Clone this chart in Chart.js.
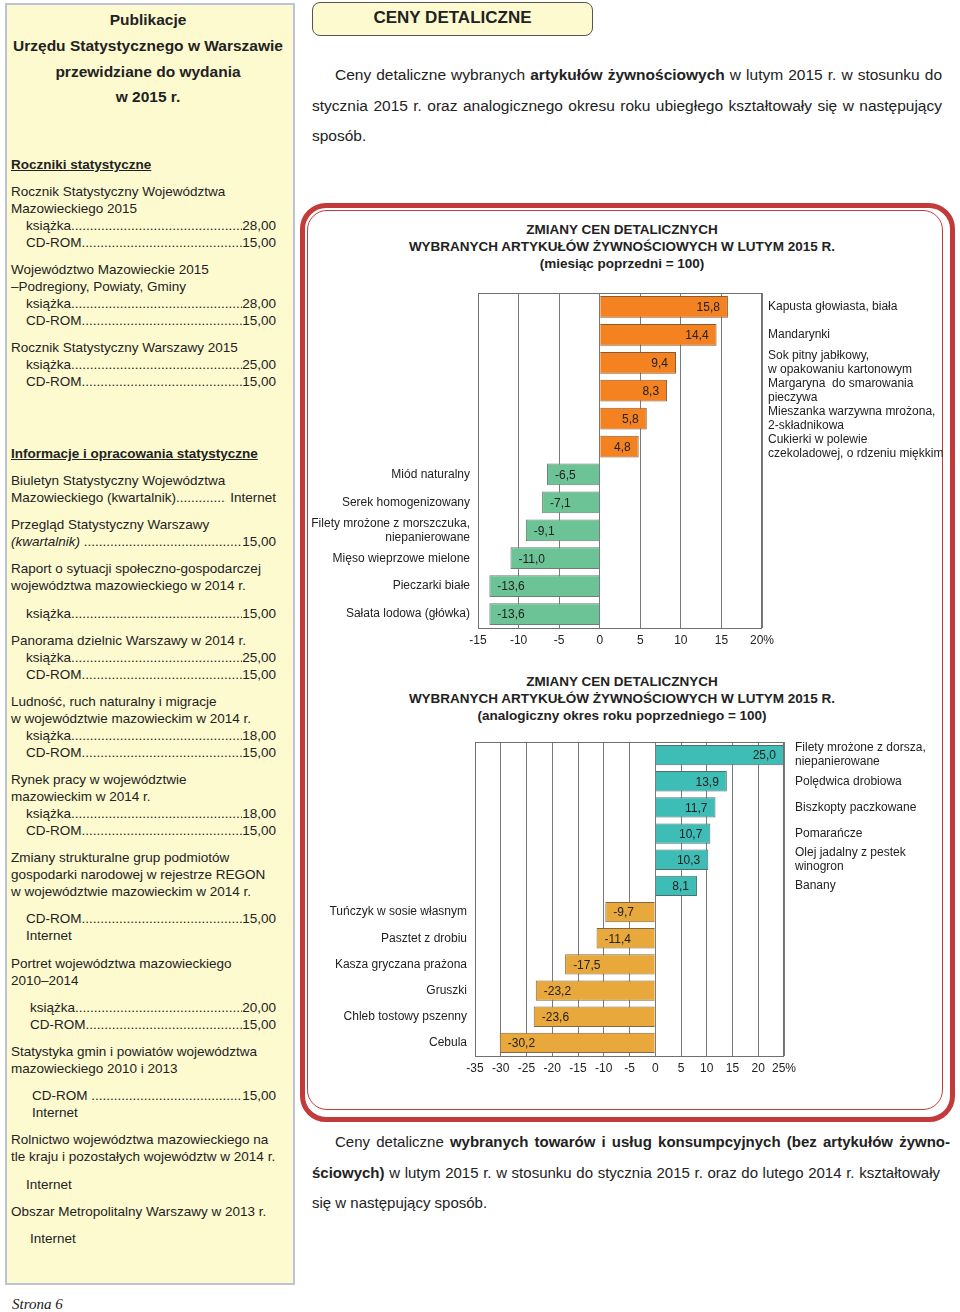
<!DOCTYPE html>
<html lang="pl">
<head>
<meta charset="utf-8">
<script src="https://cdn.jsdelivr.net/npm/chart.js@4"></script>
<style>
  html,body{margin:0;padding:0;background:#fff;}
  body{width:960px;height:1312px;position:relative;overflow:hidden;font-family:"Liberation Sans",Arial,sans-serif;color:#222;}
  .side{position:absolute;left:5px;top:3px;width:286px;height:1278px;background:#fdfad0;border:2px solid #bcc3d8;}
  .l{position:absolute;font-size:13.5px;line-height:18px;white-space:nowrap;}
  .p{display:flex;}
  .d{flex:1;overflow:hidden;white-space:nowrap;}
  .d::after{content:"..............................................................................................................";}
  .h{font-weight:bold;text-decoration:underline;}
  .st{position:absolute;left:3px;width:290px;text-align:center;font-weight:bold;font-size:15.5px;line-height:20px;}
  .hdr{position:absolute;left:312px;top:2px;width:279px;height:32px;background:#fdfad0;border:1px solid #555;border-radius:8px;text-align:center;font-weight:bold;font-size:17px;line-height:30px;}
  .para div{position:absolute;left:312px;width:630px;font-size:15.5px;line-height:20px;text-align:justify;text-align-last:justify;white-space:nowrap;}
  .para div.last{text-align-last:left;}
  .para div.first{left:335px;width:607px;}
  .para2 div{font-size:15px;width:628px;}
  .para2 div.first{left:335px;width:615px;}
  .frame{position:absolute;left:300px;top:203px;width:645px;height:909px;border:5px solid #c23a3a;border-radius:26px;}
  .frame2{position:absolute;left:307px;top:210px;width:634px;height:898px;border:1.5px solid #c23a3a;border-radius:20px;}
  .ct{position:absolute;left:302px;width:640px;text-align:center;font-weight:bold;font-size:13.5px;line-height:17px;}
  canvas{position:absolute;}
</style>
</head>
<body>
<div class="side"></div>
<div class="st" style="top:10px">Publikacje</div>
<div class="st" style="top:36px">Urzędu Statystycznego w Warszawie</div>
<div class="st" style="top:62px">przewidziane do wydania</div>
<div class="st" style="top:87px">w 2015 r.</div>

<div class="l h" style="left:11px;top:156px">Roczniki statystyczne</div>
<div class="l" style="left:11px;top:183px">Rocznik Statystyczny Województwa</div>
<div class="l" style="left:11px;top:200px">Mazowieckiego 2015</div>
<div class="l p" style="left:26px;width:250px;top:217px"><span>książka</span><span class="d"></span><span>28,00</span></div>
<div class="l p" style="left:26px;width:250px;top:234px"><span>CD-ROM</span><span class="d"></span><span>15,00</span></div>
<div class="l" style="left:11px;top:261px">Województwo Mazowieckie 2015</div>
<div class="l" style="left:11px;top:278px">–Podregiony, Powiaty, Gminy</div>
<div class="l p" style="left:26px;width:250px;top:295px"><span>książka</span><span class="d"></span><span>28,00</span></div>
<div class="l p" style="left:26px;width:250px;top:312px"><span>CD-ROM</span><span class="d"></span><span>15,00</span></div>
<div class="l" style="left:11px;top:339px">Rocznik Statystyczny Warszawy 2015</div>
<div class="l p" style="left:26px;width:250px;top:356px"><span>książka</span><span class="d"></span><span>25,00</span></div>
<div class="l p" style="left:26px;width:250px;top:373px"><span>CD-ROM</span><span class="d"></span><span>15,00</span></div>

<div class="l h" style="left:11px;top:445px">Informacje i opracowania statystyczne</div>
<div class="l" style="left:11px;top:472px">Biuletyn Statystyczny Województwa</div>
<div class="l p" style="left:11px;width:265px;top:489px"><span>Mazowieckiego (kwartalnik)</span><span class="d"></span><span>&nbsp;Internet</span></div>
<div class="l" style="left:11px;top:516px">Przegląd Statystyczny Warszawy</div>
<div class="l p" style="left:11px;width:265px;top:533px"><span><i>(kwartalnik)</i>&nbsp;</span><span class="d"></span><span>15,00</span></div>
<div class="l" style="left:11px;top:560px">Raport o sytuacji społeczno-gospodarczej</div>
<div class="l" style="left:11px;top:577px">województwa mazowieckiego w 2014 r.</div>
<div class="l p" style="left:26px;width:250px;top:605px"><span>książka</span><span class="d"></span><span>15,00</span></div>
<div class="l" style="left:11px;top:632px">Panorama dzielnic Warszawy w 2014 r.</div>
<div class="l p" style="left:26px;width:250px;top:649px"><span>książka</span><span class="d"></span><span>25,00</span></div>
<div class="l p" style="left:26px;width:250px;top:666px"><span>CD-ROM</span><span class="d"></span><span>15,00</span></div>
<div class="l" style="left:11px;top:693px">Ludność, ruch naturalny i migracje</div>
<div class="l" style="left:11px;top:710px">w województwie mazowieckim w 2014 r.</div>
<div class="l p" style="left:26px;width:250px;top:727px"><span>książka</span><span class="d"></span><span>18,00</span></div>
<div class="l p" style="left:26px;width:250px;top:744px"><span>CD-ROM</span><span class="d"></span><span>15,00</span></div>
<div class="l" style="left:11px;top:771px">Rynek pracy w województwie</div>
<div class="l" style="left:11px;top:788px">mazowieckim w 2014 r.</div>
<div class="l p" style="left:26px;width:250px;top:805px"><span>książka</span><span class="d"></span><span>18,00</span></div>
<div class="l p" style="left:26px;width:250px;top:822px"><span>CD-ROM</span><span class="d"></span><span>15,00</span></div>
<div class="l" style="left:11px;top:849px">Zmiany strukturalne grup podmiotów</div>
<div class="l" style="left:11px;top:866px">gospodarki narodowej w rejestrze REGON</div>
<div class="l" style="left:11px;top:883px">w województwie mazowieckim w 2014 r.</div>
<div class="l p" style="left:26px;width:250px;top:910px"><span>CD-ROM</span><span class="d"></span><span>15,00</span></div>
<div class="l" style="left:26px;top:927px">Internet</div>
<div class="l" style="left:11px;top:955px">Portret województwa mazowieckiego</div>
<div class="l" style="left:11px;top:972px">2010–2014</div>
<div class="l p" style="left:30px;width:246px;top:999px"><span>książka</span><span class="d"></span><span>20,00</span></div>
<div class="l p" style="left:30px;width:246px;top:1016px"><span>CD-ROM</span><span class="d"></span><span>15,00</span></div>
<div class="l" style="left:11px;top:1043px">Statystyka gmin i powiatów województwa</div>
<div class="l" style="left:11px;top:1060px">mazowieckiego 2010 i 2013</div>
<div class="l p" style="left:32px;width:244px;top:1087px"><span>CD-ROM&nbsp;</span><span class="d"></span><span>15,00</span></div>
<div class="l" style="left:32px;top:1104px">Internet</div>
<div class="l" style="left:11px;top:1131px">Rolnictwo województwa mazowieckiego na</div>
<div class="l" style="left:11px;top:1148px">tle kraju i pozostałych województw w 2014 r.</div>
<div class="l" style="left:26px;top:1176px">Internet</div>
<div class="l" style="left:11px;top:1203px">Obszar Metropolitalny Warszawy w 2013 r.</div>
<div class="l" style="left:30px;top:1230px">Internet</div>
<div class="l" style="left:12px;top:1295px;font-family:'Liberation Serif',serif;font-style:italic;font-size:15px">Strona 6</div>

<div class="hdr">CENY DETALICZNE</div>
<div class="para">
  <div class="first" style="top:65px">Ceny detaliczne wybranych <b>artykułów żywnościowych</b> w lutym 2015 r. w stosunku do</div>
  <div style="top:96px">stycznia 2015 r. oraz analogicznego okresu roku ubiegłego kształtowały się w następujący</div>
  <div class="last" style="top:126px">sposób.</div>
</div>

<div class="frame"></div>
<div class="frame2"></div>

<div class="ct" style="top:221px">ZMIANY CEN DETALICZNYCH<br>WYBRANYCH ARTYKUŁÓW ŻYWNOŚCIOWYCH W LUTYM 2015 R.<br>(miesiąc poprzedni = 100)</div>
<canvas id="c1" width="652" height="365" style="left:302px;top:285px"></canvas>

<div class="ct" style="top:673px">ZMIANY CEN DETALICZNYCH<br>WYBRANYCH ARTYKUŁÓW ŻYWNOŚCIOWYCH W LUTYM 2015 R.<br>(analogiczny okres roku poprzedniego = 100)</div>
<canvas id="c2" width="652" height="344" style="left:302px;top:734px"></canvas>

<div class="para para2">
  <div class="first" style="top:1132px">Ceny detaliczne <b>wybranych towarów i usług konsumpcyjnych (bez artykułów żywno-</b></div>
  <div style="top:1163px"><b>ściowych)</b> w lutym 2015 r. w stosunku do stycznia 2015 r. oraz do lutego 2014 r. kształtowały</div>
  <div class="last" style="top:1193px">się w następujący sposób.</div>
</div>

<script>
// ---- Chart 1: month-on-month (previous month = 100) ----
const labels1 = [
  "Kapusta głowiasta, biała",
  "Mandarynki",
  ["Sok pitny jabłkowy,", "w opakowaniu kartonowym"],
  ["Margaryna  do smarowania", "pieczywa"],
  ["Mieszanka warzywna mrożona,", "2-składnikowa"],
  ["Cukierki w polewie", "czekoladowej, o rdzeniu miękkim"],
  "Miód naturalny",
  "Serek homogenizowany",
  ["Filety mrożone z morszczuka,", "niepanierowane"],
  "Mięso wieprzowe mielone",
  "Pieczarki białe",
  "Sałata lodowa (główka)"
];
const values1 = [15.8, 14.4, 9.4, 8.3, 5.8, 4.8, -6.5, -7.1, -9.1, -11.0, -13.6, -13.6];
const xMin1 = -15, xMax1 = 20, xStep1 = 5;

// ---- Chart 2: year-on-year (same period previous year = 100) ----
const labels2 = [
  ["Filety mrożone z dorsza,", "niepanierowane"],
  "Polędwica drobiowa",
  "Biszkopty paczkowane",
  "Pomarańcze",
  ["Olej jadalny z pestek", "winogron"],
  "Banany",
  "Tuńczyk w sosie własnym",
  "Pasztet z drobiu",
  "Kasza gryczana prażona",
  "Gruszki",
  "Chleb tostowy pszenny",
  "Cebula"
];
const values2 = [25.0, 13.9, 11.7, 10.7, 10.3, 8.1, -9.7, -11.4, -17.5, -23.2, -23.6, -30.2];
const xMin2 = -35, xMax2 = 25, xStep2 = 5;

const colors1 = { pos: "#f58220", posB: "#8a5a30", neg: "#6cc396", negB: "#6b7f74" };
const colors2 = { pos: "#3ebdb6", posB: "#4f6e6c", neg: "#e8a83b", negB: "#806a45" };

const FONT = '"Liberation Sans", Arial, sans-serif';

const framePlugin = {
  id: "frame",
  afterDatasetsDraw(chart) {
    const a = chart.chartArea, ctx = chart.ctx;
    ctx.save();
    ctx.strokeStyle = "#707070";
    ctx.lineWidth = 1;
    ctx.strokeRect(Math.round(a.left) + 0.5, Math.round(a.top) + 0.5, Math.round(a.right - a.left) - 1, Math.round(a.bottom - a.top));
    const meta = chart.getDatasetMeta(0);
    const data = chart.data.datasets[0].data;
    ctx.font = "12px " + FONT;
    ctx.fillStyle = "#222";
    ctx.textBaseline = "middle";
    meta.data.forEach((el, i) => {
      const v = data[i];
      const t = v.toFixed(1).replace(".", ",");
      if (v >= 0) { ctx.textAlign = "right"; ctx.fillText(t, el.x - 8, el.y + 1); }
      else { ctx.textAlign = "left"; ctx.fillText(t, el.x + 8, el.y + 1); }
    });
    ctx.restore();
  }
};

function makeChart(id, labels, values, xMin, xMax, xStep, col, leftW, rightW, leftPad, rightPad) {
  const bg = values.map(v => v >= 0 ? col.pos : col.neg);
  const bd = values.map(v => v >= 0 ? col.posB : col.negB);
  const tickFont = { family: FONT, size: 12, lineHeight: 1.15 };
  const fitY = w => s => { s.width = w; s.paddingTop = 0; s.paddingBottom = 0; };
  return new Chart(document.getElementById(id), {
    type: "bar",
    data: {
      labels: labels,
      datasets: [{
        data: values,
        backgroundColor: bg,
        borderColor: bd,
        borderWidth: 1,
        barPercentage: 0.78,
        categoryPercentage: 1,
        yAxisID: "yL"
      }]
    },
    options: {
      indexAxis: "y",
      responsive: false,
      animation: false,
      devicePixelRatio: 1,
      layout: { padding: { top: 8, left: 0, right: 0, bottom: 0 } },
      plugins: { legend: { display: false }, tooltip: { enabled: false }, title: { display: false } },
      scales: {
        x: {
          type: "linear",
          min: xMin, max: xMax,
          ticks: {
            stepSize: xStep, padding: 5, color: "#222", font: { family: FONT, size: 12 },
            maxRotation: 0, minRotation: 0, autoSkip: false,
            callback: v => v === xMax ? v + "%" : String(v)
          },
          grid: { color: "#7a7a7a", lineWidth: 1, drawTicks: false },
          border: { display: false },
          afterFit: s => { s.height = 22; s.paddingLeft = 0; s.paddingRight = 0; }
        },
        yL: {
          type: "category",
          position: "left",
          ticks: {
            autoSkip: false, padding: leftPad, color: "#222", font: tickFont,
            callback: (v, i) => values[i] < 0 ? labels[i] : ""
          },
          grid: { display: false, drawTicks: false },
          border: { display: false },
          afterFit: fitY(leftW)
        },
        yR: {
          type: "category",
          position: "right",
          ticks: {
            autoSkip: false, padding: rightPad, color: "#222", font: tickFont,
            callback: (v, i) => values[i] >= 0 ? labels[i] : ""
          },
          grid: { display: false, drawTicks: false },
          border: { display: false },
          afterFit: fitY(rightW)
        }
      }
    },
    plugins: [framePlugin]
  });
}

makeChart("c1", labels1, values1, xMin1, xMax1, xStep1, colors1, 176, 192, 8, 6);
makeChart("c2", labels2, values2, xMin2, xMax2, xStep2, colors2, 173, 170, 8, 11);
</script>
</body>
</html>
